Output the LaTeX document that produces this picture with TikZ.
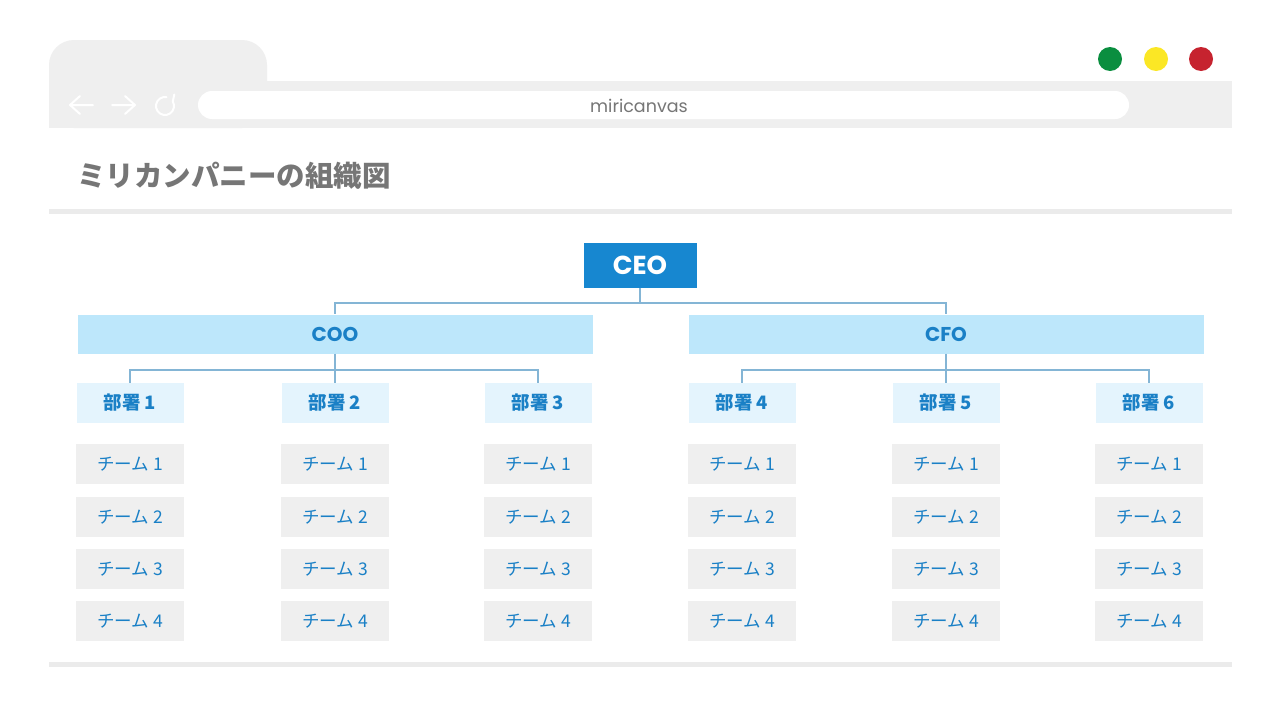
\documentclass[tikz,border=0pt]{standalone}
\usepackage{fontspec}
\newfontfamily\jpfont{Noto Sans CJK JP}
\newfontfamily\latinfont{Poppins}

\definecolor{framegray}{HTML}{EFEFEF}
\definecolor{rulegray}{HTML}{EBEBEB}
\definecolor{titlegray}{HTML}{767676}
\definecolor{ceoblue}{HTML}{1787D0}
\definecolor{textblue}{HTML}{1A80C6}
\definecolor{cxobg}{HTML}{BDE7FB}
\definecolor{deptbg}{HTML}{E4F4FD}
\definecolor{linkblue}{HTML}{84B5D5}
\definecolor{dotgreen}{HTML}{0A8E3F}
\definecolor{dotyellow}{HTML}{FBE725}
\definecolor{dotred}{HTML}{C6232F}

\tikzset{
  box/.style={inner sep=0pt, anchor=center},
  ceobox/.style={box, fill=ceoblue, minimum width=113pt, minimum height=45pt,
    text=white, font=\latinfont\bfseries\fontsize{26}{26}\selectfont},
  cxobox/.style={box, fill=cxobg, minimum width=515pt, minimum height=39pt,
    text=textblue, font=\latinfont\bfseries\fontsize{20}{20}\selectfont},
  deptbox/.style={box, fill=deptbg, minimum width=107pt, minimum height=40pt,
    text=textblue, font=\jpfont\bfseries\fontsize{18.5}{18.5}\selectfont},
  teambox/.style={box, fill=framegray, minimum width=108pt, minimum height=40pt,
    text=textblue, font=\jpfont\fontsize{17.5}{17.5}\selectfont},
  link/.style={draw=linkblue, line width=2pt},
  navicon/.style={draw=white, line width=2pt, line cap=round, line join=round}
}

\begin{document}
\begin{tikzpicture}[x=1pt, y=-1pt]
  % page from (0,0) to (1280,720), y downwards
  \useasboundingbox[fill=white] (0,0) rectangle (1280,720);

  % browser frame
  \fill[framegray, rounded corners=25pt] (49,128) rectangle (267,40); % tab
  \fill[framegray] (49,81) rectangle (1232,128); % toolbar
  \fill[white, rounded corners=14pt] (198,91) rectangle (1129,119); % url bar
  \node[box, text=titlegray, font=\latinfont\fontsize{17.5}{17.5}\selectfont] (url) at (639,106) {miricanvas};

  % back, forward, reload
  \draw[navicon] (93,105) -- (70,105) (80,96) -- (70,105) -- (80,114);
  \draw[navicon] (112,105) -- (135,105) (125,96) -- (135,105) -- (125,114);
  \draw[navicon] (165,106) ++(-80:9) arc[start angle=-80, end angle=-390, radius=9] -- ++(1.5,-7);

  % window buttons
  \fill[dotgreen] (1110,59) circle (12pt);
  \fill[dotyellow] (1156,59) circle (12pt);
  \fill[dotred] (1201,59) circle (12pt);

  % title and rules
  \node[anchor=west, inner sep=0pt, text=titlegray, font=\jpfont\bfseries\fontsize{28.5}{28.5}\selectfont] (title) at (77,176) {ミリカンパニーの組織図};
  \fill[rulegray] (49,209) rectangle (1232,214);
  \fill[rulegray] (49,662) rectangle (1232,667);

  % chart
  \node[ceobox] (ceo) at (640,265) {CEO};
  \node[cxobox] (coo) at (335,334) {COO};
  \node[cxobox] (cfo) at (946,334) {CFO};

  \foreach \d/\x in {1/130,2/335,3/538,4/742,5/946,6/1149} {
    \node[deptbox] (dept\d) at (\x,403) {部署 \d};
    \foreach \t/\y in {1/464,2/517,3/569,4/621}
      \node[teambox] (team\d\t) at (\x,\y) {チーム \t};
  }

  % connectors
  \draw[link] (ceo.south) -- ++(0,15) coordinate (ceojoin);
  \draw[link] (ceojoin) -| (coo.north);
  \draw[link] (ceojoin) -| (cfo.north);
  \draw[link] (coo.south) -- ++(0,16) coordinate (coojoin);
  \draw[link] (cfo.south) -- ++(0,16) coordinate (cfojoin);
  \foreach \d in {1,2,3} \draw[link] (coojoin) -| (dept\d.north);
  \foreach \d in {4,5,6} \draw[link] (cfojoin) -| (dept\d.north);
\end{tikzpicture}
\end{document}
